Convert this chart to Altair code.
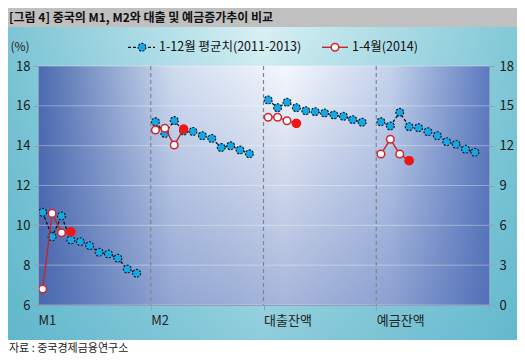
import json
import altair as alt
import pandas as pd

# ---------------- data ----------------
groups = ["M1", "M2", "대출잔액", "예금잔액"]
avg_m1 = [6.98, 5.14, 6.70, 4.90, 4.77, 4.47, 3.97, 3.84, 3.52, 2.71, 2.39]
avg_m2 = [13.80, 12.92, 13.89, 13.10, 13.07, 12.75, 12.54, 11.86, 11.99, 11.67, 11.39]
avg_loan = [15.44, 14.86, 15.27, 14.86, 14.63, 14.56, 14.46, 14.31, 14.21, 13.96, 13.76]
avg_dep = [13.80, 13.48, 14.51, 13.43, 13.35, 13.05, 12.75, 12.30, 12.10, 11.73, 11.50]
cur_m1 = [1.20, 6.90, 5.44, 5.52]
cur_m2 = [13.18, 13.31, 12.05, 13.25]
cur_loan = [14.14, 14.14, 13.88, 13.68]
cur_dep = [11.37, 12.48, 11.37, 10.87]
left_ticks = [6, 8, 10, 12, 14, 16, 18]
right_ticks = [0, 3, 6, 9, 12, 15, 18]
legend_labels = ["1-12월 평균치(2011-2013)", "1-4월(2014)"]
title_text = "[그림 4] 중국의 M1, M2와 대출 및 예금증가추이 비교"
source_text = "자료 : 중국경제금융연구소"
unit_text = "(%)"
slots_per_group = 12

avg_series = [avg_m1, avg_m2, avg_loan, avg_dep]
cur_series = [cur_m1, cur_m2, cur_loan, cur_dep]

avg_rows, cur_rows = [], []
for g, name in enumerate(groups):
    for i, v in enumerate(avg_series[g]):
        avg_rows.append({"group": name, "x": g * slots_per_group + i + 0.5, "value": v})
    for i, v in enumerate(cur_series[g]):
        cur_rows.append({"group": name, "x": g * slots_per_group + i + 0.5, "value": v, "month": i + 1})
df_avg = pd.DataFrame(avg_rows)
df_cur = pd.DataFrame(cur_rows)
df_sep = pd.DataFrame({"x": [slots_per_group * k for k in range(1, len(groups))]})
df_grid = pd.DataFrame({"v": left_ticks})

# ---------------- layout ----------------
W, H = 451, 239
PL, PT, PR, PB = 30, 58, 28, 51
FONT = "Noto Sans CJK KR"
n_slots = slots_per_group * len(groups)

x_axis = alt.Axis(
    values=[slots_per_group * k for k in range(len(groups) + 1)],
    labelExpr=json.dumps(groups, ensure_ascii=False) + "[datum.value/" + str(slots_per_group) + "] || ''",
    labelAlign="left", labelFlush=False, labelOverlap=False, labelBound=False,
    tickSize=5, labelPadding=4, labelFontSize=13, labelColor="#222222",
    domainColor="#8fa0bd", tickColor="#8fa0bd", grid=False, title=None, zindex=1,
)
right_axis = alt.Axis(
    orient="right", values=right_ticks, tickSize=5, labelPadding=5, labelFontSize=13,
    labelColor="#1a1a1a", domainColor="#8fa0bd", tickColor="#8fa0bd", grid=False,
    title=None, zindex=1,
)
left_axis = alt.Axis(
    orient="left", values=left_ticks, tickSize=5, labelPadding=3, labelFontSize=13,
    labelColor="#1a1a1a", domainColor="#8fa0bd", tickColor="#8fa0bd", grid=False,
    title=None, zindex=1,
)
xs = alt.Scale(domain=[0, n_slots], nice=False, zero=False)
ys_right = alt.Scale(domain=[0, 18], nice=False, zero=False)
ys_left = alt.Scale(domain=[6, 18], nice=False, zero=False)

one = alt.Data(values=[{}])

def grad_h(stops):
    return alt.LinearGradient(gradient="linear", x1=0, x2=1, y1=0, y2=0,
                              stops=[alt.GradientStop(color=c, offset=o) for o, c in stops])

def grad_v(stops):
    return alt.LinearGradient(gradient="linear", x1=0, x2=0, y1=0, y2=1,
                              stops=[alt.GradientStop(color=c, offset=o) for o, c in stops])

full_x0, full_x1 = -PL, W + PR
teal_y0, teal_y1 = -39, H + 35

def rect(fill, x0, x1, y0, y1):
    return alt.Chart(one).mark_rect(fill=fill, strokeWidth=0).encode(
        x=alt.value(x0), x2=alt.value(x1), y=alt.value(y0), y2=alt.value(y1))

bg_teal = rect(grad_h([(0, "#7cc5d5"), (0.5, "#d8f0f4"), (1, "#82c8d7")]), full_x0, full_x1, teal_y0, teal_y1)
bg_teal2 = rect(grad_v([(0, "rgba(70,170,195,0)"), (1, "rgba(70,170,195,0.5)")]), full_x0, full_x1, teal_y0, teal_y1)
bg_grey = rect("#c0c0c0", full_x0, full_x1, -PT, teal_y0)
plot_bg = rect(grad_h([(0, "#4a6aaf"), (0.3, "#d0dcef"), (0.55, "#f4f7fc"), (0.78, "#c5d3ec"), (1, "#5c7bbf")]), 0, W, 0, H)
plot_bg2 = rect(grad_v([(0, "rgba(70,100,175,0)"), (1, "rgba(70,100,175,0.45)")]), 0, W, 0, H)

title = alt.Chart(alt.Data(values=[{"t": title_text}])).mark_text(
    align="left", baseline="middle", fontSize=12, fontWeight="bold", color="#111111", font=FONT
).encode(x=alt.value(-PL + 1), y=alt.value(-PT + 10), text="t:N")
source = alt.Chart(alt.Data(values=[{"t": source_text}])).mark_text(
    align="left", baseline="middle", fontSize=11, color="#222222", font=FONT
).encode(x=alt.value(-PL + 1), y=alt.value(H + 44), text="t:N")
unit = alt.Chart(alt.Data(values=[{"t": unit_text}])).mark_text(
    align="center", baseline="middle", fontSize=12, color="#222222", font=FONT
).encode(x=alt.value(-18), y=alt.value(-19), text="t:N")

grid = alt.Chart(df_grid).mark_rule(color="#ffffff", opacity=0.35, strokeWidth=1).encode(
    y=alt.Y("v:Q", scale=ys_left, axis=left_axis))
seps = alt.Chart(df_sep).mark_rule(color="#80858c", strokeDash=[4, 3], strokeWidth=1.2).encode(
    x=alt.X("x:Q", scale=xs, axis=x_axis))

X = alt.X("x:Q", scale=xs, axis=x_axis)
Y = alt.Y("value:Q", scale=ys_right, axis=right_axis)

avg_line = alt.Chart(df_avg).mark_line(color="#111111", strokeWidth=1.3, strokeDash=[3, 2]).encode(
    x=X, y=Y, detail="group:N")
avg_pts = alt.Chart(df_avg).mark_circle(size=62, fill="#18a7e6", stroke="#111111", strokeWidth=1.1,
                                        strokeDash=[2, 1.5], opacity=1).encode(x=X, y=Y)
cur_line = alt.Chart(df_cur).mark_line(color="#c8242b", strokeWidth=1.4).encode(
    x=X, y=Y, detail="group:N")
cur_pts = alt.Chart(df_cur).mark_circle(size=58, fill="#ffffff", stroke="#d0262d", strokeWidth=1.5,
                                        opacity=1).encode(x=X, y=Y)
cur_last = alt.Chart(df_cur).transform_filter("datum.month == 4").mark_circle(
    size=88, fill="#f01616", opacity=1).encode(x=X, y=Y)

data_layer = alt.layer(avg_line, avg_pts, cur_line, cur_pts, cur_last)

# legend (manual)
LY = -18.7
lg1_line = alt.Chart(one).mark_rule(color="#111111", strokeDash=[3, 2], strokeWidth=1.3).encode(
    x=alt.value(90), x2=alt.value(117), y=alt.value(LY))
lg1_pt = alt.Chart(one).mark_circle(size=62, fill="#18a7e6", stroke="#111111", strokeWidth=1.1,
                                    strokeDash=[2, 1.5], opacity=1).encode(x=alt.value(104), y=alt.value(LY))
lg1_txt = alt.Chart(alt.Data(values=[{"t": legend_labels[0]}])).mark_text(
    align="left", baseline="middle", fontSize=12.5, color="#111111", font=FONT
).encode(x=alt.value(121), y=alt.value(LY), text="t:N")
lg2_line = alt.Chart(one).mark_rule(color="#c8242b", strokeWidth=1.4).encode(
    x=alt.value(284), x2=alt.value(310), y=alt.value(LY))
lg2_pt = alt.Chart(one).mark_circle(size=58, fill="#ffffff", stroke="#d0262d", strokeWidth=1.5,
                                    opacity=1).encode(x=alt.value(297), y=alt.value(LY))
lg2_txt = alt.Chart(alt.Data(values=[{"t": legend_labels[1]}])).mark_text(
    align="left", baseline="middle", fontSize=12.5, color="#111111", font=FONT
).encode(x=alt.value(314), y=alt.value(LY), text="t:N")

chart = alt.layer(
    bg_teal, bg_teal2, bg_grey, title, source, unit,
    plot_bg, plot_bg2, grid, seps, data_layer,
    lg1_line, lg1_pt, lg1_txt, lg2_line, lg2_pt, lg2_txt,
).resolve_scale(y="independent").properties(
    width=W, height=H,
    autosize=alt.AutoSizeParams(type="none"),
    padding={"left": PL, "top": PT, "right": PR, "bottom": PB},
    background="#ffffff",
).configure_view(stroke=None).configure(font=FONT)

chart.save("out.html", embed_options={"renderer": "svg", "actions": False})
